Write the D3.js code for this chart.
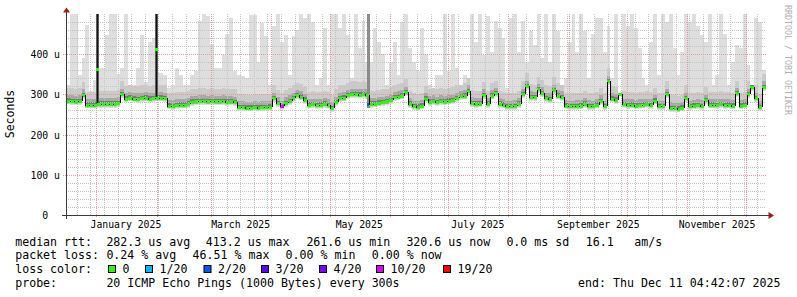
<!DOCTYPE html>
<html>
<head>
<meta charset="utf-8">
<script src="https://cdn.jsdelivr.net/npm/d3@7"></script>
<style>
  body { margin: 0; background: #fff; }
  text { font-family: "DejaVu Sans Mono", monospace; white-space: pre; }
</style>
</head>
<body>
<svg id="chart" width="797" height="297"></svg>
<script>
// last 360 days, one value per 2 days, rtt in microseconds
var medianRtt = [
  284, 283, 282, 283, 298, 274, 274, 274, 276, 276,
  276, 276, 276, 278, 300, 289, 291, 289, 288, 290,
  291, 289, 290, 291, 291, 290, 272, 271, 273, 274,
  274, 276, 281, 282, 283, 283, 282, 283, 282, 282,
  283, 281, 282, 280, 268, 268, 267, 267, 268, 267,
  268, 268, 269, 290, 278, 270, 278, 283, 290, 297,
  294, 286, 274, 275, 273, 274, 276, 273, 266, 280,
  290, 291, 297, 300, 300, 299, 300, 298, 276, 277,
  279, 280, 282, 285, 292, 294, 296, 305, 276, 270,
  269, 272, 289, 281, 283, 280, 283, 282, 284, 285,
  290, 295, 296, 308, 278, 276, 277, 298, 276, 296,
  302, 276, 274, 270, 270, 271, 276, 300, 320, 293,
  292, 312, 303, 290, 288, 310, 296, 293, 272, 270,
  270, 271, 272, 276, 271, 270, 274, 283, 270, 332,
  289, 286, 300, 275, 273, 274, 272, 273, 274, 275,
  273, 284, 270, 270, 300, 266, 265, 264, 267, 290,
  270, 272, 273, 271, 285, 274, 274, 273, 275, 273,
  274, 272, 302, 272, 274, 300, 318, 290, 268, 318
];
var maxRtt = [
  324, 500, 500, 349, 390, 473, 307, 336, 365, 365,
  448, 500, 500, 350, 365, 500, 324, 324, 365, 448,
  330, 431, 440, 352, 352, 349, 316, 324, 365, 349,
  324, 324, 349, 357, 481, 500, 494, 425, 365, 365,
  398, 450, 490, 357, 349, 345, 340, 498, 498, 381,
  477, 444, 324, 470, 500, 430, 448, 349, 444, 460,
  500, 490, 500, 480, 324, 340, 465, 324, 500, 500,
  465, 500, 448, 340, 500, 415, 481, 381, 381, 465,
  431, 400, 324, 381, 431, 349, 480, 500, 415, 381,
  357, 465, 400, 324, 316, 349, 349, 500, 357, 500,
  365, 324, 349, 340, 500, 431, 500, 398, 494, 406,
  481, 465, 440, 316, 490, 500, 406, 481, 381, 456,
  423, 500, 390, 500, 381, 500, 456, 324, 340, 431,
  500, 406, 500, 456, 340, 450, 490, 490, 406, 470,
  340, 500, null, 500, 470, 500, 465, 415, 340, 324,
  431, 500, 349, 500, 480, 500, 415, 349, 406, 500,
  480, 500, 470, 448, 431, 500, 324, 349, 500, 450,
  324, 381, 423, 415, 500, 373, 324, 490, 480, 360
];
// short periods where the whole smoke moved up (day = days after start)
var spikes = [
  {day: 16.3, low: 272, top: 500, rtt: 363, loss: 0},
  {day: 46.4, low: 286, top: 500, rtt: 413, loss: 0},
  {day: 155.6, low: 266, top: 500, rtt: 276, loss: 2}
];
var lossEvents = [{day: 111, loss: 10}];

var lossSteps = [0, 1, 2, 3, 4, 10, 19];
var lossLabels = ["0", "1/20", "2/20", "3/20", "4/20", "10/20", "19/20"];
var lossColors = ["#26ff00", "#00b8ff", "#0059ff", "#5e00ff", "#7e00ff", "#dd00ff", "#ff0000"];

var yTicks = [0, 100, 200, 300, 400];
var yTickLabels = ["0  ", "100 u", "200 u", "300 u", "400 u"];

var rttStats = ["282.3 us avg", "413.2 us max", "261.6 us min", "320.6 us now", "0.0 ms sd", "16.1", "am/s"];
var lossStats = ["0.24 % avg", "46.51 % max", "0.00 % min", "0.00 % now"];
var probeText = "20 ICMP Echo Pings (1000 Bytes) every 300s";
var endText = "end: Thu Dec 11 04:42:07 2025";

var svg = d3.select("#chart");
var end = new Date(Date.UTC(2025, 11, 11, 4, 42, 7));
var start = d3.utcDay.offset(end, -360);
var step = 2;

var x = d3.scaleUtc().domain([start, end]).range([66, 766]);
var y = d3.scaleLinear().domain([0, 500]).range([215, 13.75]);
function atDay(d) { return new Date(+start + d * 864e5); }
function py(v) { return Math.round(y(v)); }
function lossColor(l) {
  var c = lossColors[0];
  lossSteps.forEach(function(s, i) { if (l >= s) c = lossColors[i]; });
  return c;
}

var buckets = medianRtt.map(function(m, i) {
  return {
    m: m, max: maxRtt[i],
    x0: Math.round(x(atDay(i * step))),
    x1: Math.round(x(atDay((i + 1) * step)))
  };
});

// smoke
var bands = [
  {lo: -9, hi: 1000, color: "#dedede"},
  {lo: -7, hi: 32, color: "#cacaca"},
  {lo: -5, hi: 14, color: "#a8a8a8"},
  {lo: -3, hi: 6, color: "#7a7a7a"}
];
var smoke = svg.append("g").attr("shape-rendering", "crispEdges");
bands.forEach(function(b) {
  smoke.selectAll(null)
    .data(buckets.filter(function(d) { return d.max != null; }))
    .enter().append("rect")
    .attr("x", function(d) { return d.x0; })
    .attr("width", function(d) { return d.x1 - d.x0; })
    .attr("y", function(d) { return py(Math.min(d.max, d.m + b.hi)); })
    .attr("height", function(d) { return py(d.m + b.lo) - py(Math.min(d.max, d.m + b.hi)); })
    .attr("fill", b.color);
});

// grid
var grid = svg.append("g").attr("stroke-width", 1).attr("stroke-dasharray", "1,1")
  .attr("shape-rendering", "crispEdges");
var minorY = d3.range(20, 501, 20).filter(function(v) { return v % 100 != 0; });
grid.selectAll(null).data(minorY).enter().append("line")
  .attr("x1", 66).attr("x2", 766)
  .attr("y1", function(v) { return py(v) + 0.5; }).attr("y2", function(v) { return py(v) + 0.5; })
  .attr("stroke", "#c4c4c4");
grid.selectAll(null).data(d3.utcSunday.range(start, end)).enter().append("line")
  .attr("x1", function(t) { return Math.floor(x(t)) + 0.5; })
  .attr("x2", function(t) { return Math.floor(x(t)) + 0.5; })
  .attr("y1", 13.5).attr("y2", 215)
  .attr("stroke", "#c4c4c4");
grid.selectAll(null).data(yTicks.slice(1)).enter().append("line")
  .attr("x1", 63).attr("x2", 766)
  .attr("y1", function(v) { return py(v) + 0.5; }).attr("y2", function(v) { return py(v) + 0.5; })
  .attr("stroke", "#e59a9a");
grid.selectAll(null).data(d3.utcMonth.range(start, end)).enter().append("line")
  .attr("x1", function(t) { return Math.floor(x(t)) + 0.5; })
  .attr("x2", function(t) { return Math.floor(x(t)) + 0.5; })
  .attr("y1", 13.5).attr("y2", 218)
  .attr("stroke", "#e59a9a");

// spikes
var sp = svg.append("g").attr("shape-rendering", "crispEdges");
spikes.forEach(function(s) {
  var cx = Math.floor(x(atDay(s.day)));
  sp.append("rect").attr("x", cx - 1).attr("width", 3)
    .attr("y", py(s.top)).attr("height", py(s.low) - py(s.top))
    .attr("fill", s.loss > 0 ? "#8c8c8c" : "#5c5c5c");
  if (s.loss == 0) {
    sp.append("rect").attr("x", cx).attr("width", 1)
      .attr("y", py(s.top)).attr("height", py(s.low) - py(s.top))
      .attr("fill", "#111");
  }
  sp.append("rect").attr("x", cx - 1).attr("width", 3)
    .attr("y", py(s.rtt) - 1).attr("height", 3)
    .attr("fill", lossColor(s.loss));
});

// median line
var lossByBucket = {};
lossEvents.forEach(function(e) { lossByBucket[Math.floor(e.day / step)] = e.loss; });
var med = svg.append("g").attr("shape-rendering", "crispEdges");
med.selectAll(null).data(buckets).enter().append("rect")
  .attr("x", function(d) { return d.x0; })
  .attr("width", function(d) { return d.x1 - d.x0; })
  .attr("y", function(d) { return py(d.m) - 1; })
  .attr("height", 3)
  .attr("fill", function(d, i) { return lossColor(lossByBucket[i] || 0); });
med.selectAll(null).data(buckets.slice(1)).enter().append("line")
  .attr("x1", function(d) { return d.x0 + 0.5; })
  .attr("x2", function(d) { return d.x0 + 0.5; })
  .attr("y1", function(d, i) { return py(buckets[i].m); })
  .attr("y2", function(d) { return py(d.m) + 1; })
  .attr("stroke", "#000").attr("stroke-width", 1);

// axes
var axis = svg.append("g").attr("shape-rendering", "crispEdges");
axis.append("line").attr("x1", 62).attr("x2", 769).attr("y1", 215.5).attr("y2", 215.5)
  .attr("stroke", "#3a3a3a");
axis.append("line").attr("x1", 66.5).attr("x2", 66.5).attr("y1", 219).attr("y2", 12)
  .attr("stroke", "#3a3a3a");
svg.append("path").attr("d", "M768.5,212 L774,215.5 L768.5,219 Z").attr("fill", "#a31c1c");
svg.append("path").attr("d", "M63,12.5 L66.5,7.5 L70,12.5 Z").attr("fill", "#a31c1c");

svg.append("g").attr("font-size", "9.8px").attr("text-anchor", "end")
  .selectAll(null).data(yTicks).enter().append("text")
  .attr("x", 60).attr("y", function(v) { return py(v) + 3.5; })
  .text(function(v, i) { return yTickLabels[i]; });

svg.append("g").attr("font-size", "9.8px").attr("text-anchor", "middle")
  .selectAll(null).data(d3.utcMonth.every(2).range(start, end)).enter().append("text")
  .attr("x", function(t) { return x(d3.utcDay.offset(t, 15)); })
  .attr("y", 228)
  .text(d3.utcFormat("%B %Y"));

svg.append("text").attr("font-size", "11.5px").attr("text-anchor", "middle")
  .attr("transform", "translate(14,114) rotate(-90)").text("Seconds");

svg.append("text").attr("font-size", "8.3px").attr("fill", "#b0b0b0")
  .attr("transform", "translate(785,5) rotate(90)").text("RRDTOOL / TOBI OETIKER");

// legend
var lg = svg.append("g").attr("font-size", "11.6px").attr("fill", "#000");
var rows = [245.5, 259.2, 273, 286.6];
lg.append("text").attr("x", 15.2).attr("y", rows[0]).text("median rtt:");
var rttX = [106.4, 205.8, 306.4, 406.4, 506.4, 585.8, 634.2];
rttStats.forEach(function(s, i) { lg.append("text").attr("x", rttX[i]).attr("y", rows[0]).text(s); });
lg.append("text").attr("x", 15.2).attr("y", rows[1]).text("packet loss:");
var lossX = [106.4, 192.6, 285.6, 371.8];
lossStats.forEach(function(s, i) { lg.append("text").attr("x", lossX[i]).attr("y", rows[1]).text(s); });
lg.append("text").attr("x", 15.2).attr("y", rows[2]).text("loss color:");
var boxX = [108.5, 145.5, 204, 261.5, 319.5, 376.5, 443.5];
lossLabels.forEach(function(l, i) {
  lg.append("rect").attr("x", boxX[i]).attr("y", 265.5).attr("width", 7).attr("height", 7)
    .attr("fill", lossColors[i]).attr("stroke", "#000").attr("stroke-width", 1);
  lg.append("text").attr("x", boxX[i] + 14).attr("y", rows[2]).text(l);
});
lg.append("text").attr("x", 15.2).attr("y", rows[3]).text("probe:");
lg.append("text").attr("x", 106.4).attr("y", rows[3]).text(probeText);
lg.append("text").attr("x", 780.5).attr("y", rows[3]).attr("text-anchor", "end").text(endText);
</script>
</body>
</html>
